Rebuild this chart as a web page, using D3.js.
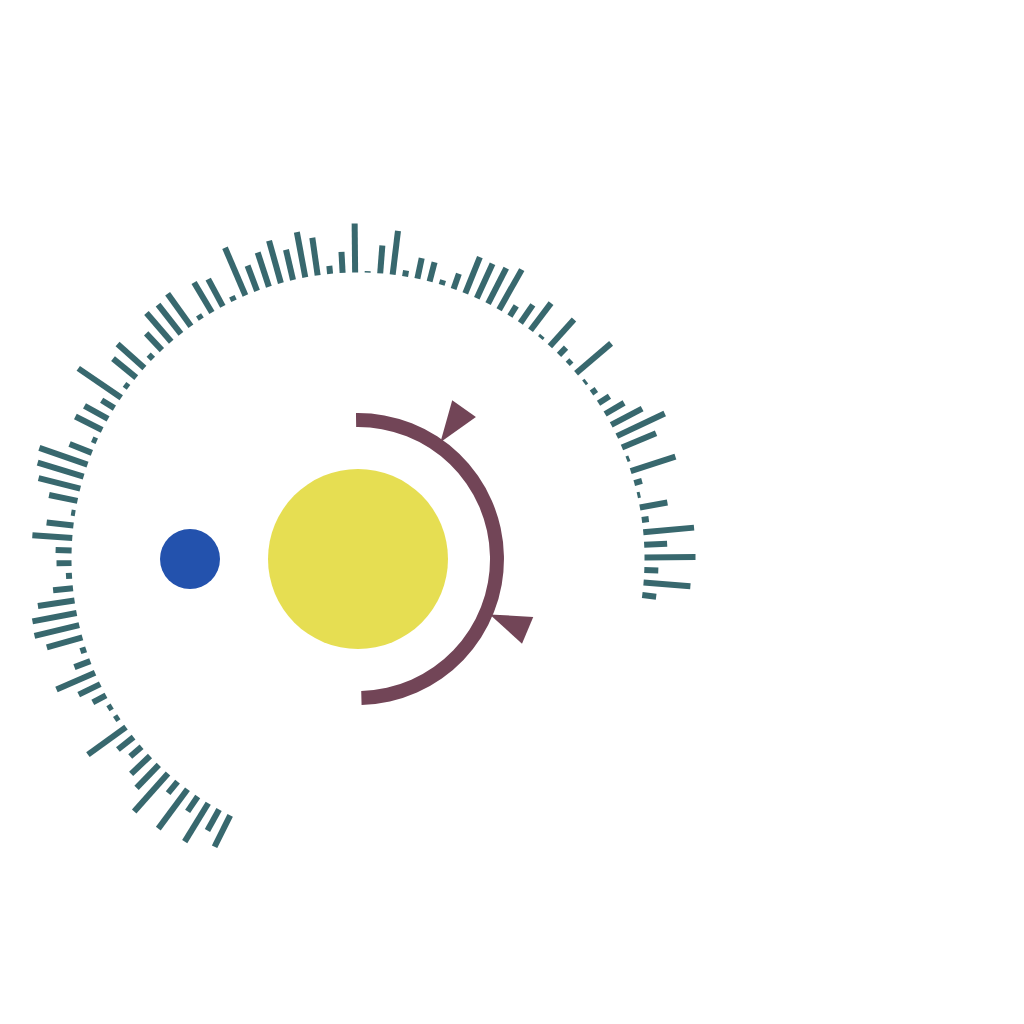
<!DOCTYPE html>
<html>
<head>
<meta charset="utf-8">
<script src="https://cdn.jsdelivr.net/npm/d3@7/dist/d3.min.js"></script>
<style>
  html, body { margin: 0; padding: 0; background: #ffffff; }
  svg { display: block; }
</style>
</head>
<body>
<svg id="chart" width="1024" height="1024"></svg>
<script>
// ---- data ----
const values = [35, 24, 45, 18, 49, 15, 51, 32, 26, 15, 20, 47, 5, 5, 15, 24, 42, 17, 6, 37,
  46, 45, 37, 20, 6, 15, 16, 40, 27, 4, 29, 43, 48, 51, 24, 5, 30, 27, 15, 52,
  5, 30, 36, 6, 23, 38, 37, 40, 5, 35, 31, 5, 52, 27, 36, 44, 31, 46, 38, 8,
  21, 49, 1.5, 28, 44, 6, 21, 20, 5, 16, 39, 38, 40, 46, 12, 22, 34, 3, 36, 10,
  5, 46, 3, 6, 13, 22, 35, 53, 37, 3, 47, 8, 3, 28, 7, 51, 23, 51, 14, 47, 14];
const categories = values.map((_, i) => i + 1);
const angleRangeDeg = [-153.5, 97.2];
const arcRangeDeg = [-0.8, 178.6];
const markerAnglesDeg = [35.2, 112.8];
const bubbles = [
  { name: "main", r: 90, dx: 0 },
  { name: "small", r: 30, dx: -168 }
];

// ---- layout ----
const cx = 358, cy = 559;
const innerR = 286.5;
const barWidth = 6;
const colors = { bar: "#38686e", arc: "#724557", yellow: "#e6de52", blue: "#2352ad" };

const svg = d3.select("#chart");
const g = svg.append("g").attr("transform", `translate(${cx},${cy})`);

const angle = d3.scalePoint().domain(categories).range(angleRangeDeg);
const len = d3.scaleLinear().domain([0, 55]).range([0, 55]);

// radial bars
g.append("g").selectAll("rect")
  .data(values)
  .join("rect")
  .attr("transform", (d, i) => `rotate(${angle(categories[i])})`)
  .attr("x", -barWidth / 2)
  .attr("y", d => -(innerR + len(d)))
  .attr("width", barWidth)
  .attr("height", d => len(d))
  .attr("fill", colors.bar);

// bubbles
g.append("g").selectAll("circle")
  .data(bubbles)
  .join("circle")
  .attr("cx", d => d.dx)
  .attr("cy", 0)
  .attr("r", d => d.r)
  .attr("fill", d => d.name === "main" ? colors.yellow : colors.blue);

// arc
const rad = d => d * Math.PI / 180;
const arcGen = d3.arc().innerRadius(132).outerRadius(146);
g.append("path")
  .attr("d", arcGen({ startAngle: rad(arcRangeDeg[0]), endAngle: rad(arcRangeDeg[1]) }))
  .attr("fill", colors.arc);

// markers (wedge triangles pointing to arc)
g.append("g").selectAll("path")
  .data(markerAnglesDeg)
  .join("path")
  .attr("transform", d => `rotate(${d})`)
  .attr("d", "M0,-143 L-14.5,-184 L14.5,-184 Z")
  .attr("fill", colors.arc);
</script>
</body>
</html>
